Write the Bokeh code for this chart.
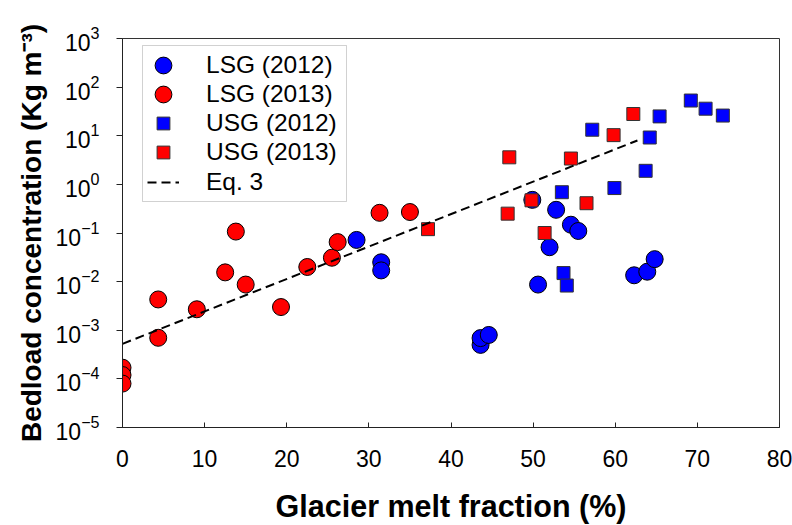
from bokeh.plotting import figure
from bokeh.models import (Range1d, Legend, LegendItem, BoxAnnotation,
                          FixedTicker, LogTickFormatter)
from bokeh.embed import file_html
from bokeh.resources import INLINE

# Glacier melt fraction (%) and bedload concentration (kg m^-3)
lsg2012_x = [28.5, 31.5, 31.5, 43.6, 43.6, 44.6, 50.6, 52.0, 52.8, 54.6, 55.5, 49.9, 62.3, 63.9, 64.8]
lsg2012_y = [0.072, 0.025, 0.017, 5.0e-4, 6.9e-4, 8.0e-4, 8.7e-3, 0.051, 0.30, 0.148, 0.11, 0.48, 0.0135, 0.016, 0.029]

lsg2013_x = [0, 0, 0, 4.35, 4.35, 9.05, 12.5, 13.8, 15.0, 19.3, 22.5, 25.5, 26.2, 31.3, 35.0]
lsg2013_y = [1.7e-4, 1.2e-4, 8.0e-5, 4.3e-3, 7.0e-4, 2.7e-3, 0.0155, 0.107, 0.0087, 3.0e-3, 0.020, 0.031, 0.065, 0.26, 0.27]

usg2012_x = [53.5, 53.7, 54.1, 57.2, 59.9, 63.7, 64.2, 65.4, 69.2, 71.0, 73.1]
usg2012_y = [0.69, 0.015, 0.0083, 13.3, 0.84, 1.9, 9.2, 25, 53, 36, 26]

usg2013_x = [37.2, 46.9, 47.1, 49.8, 51.4, 54.6, 56.5, 59.8, 62.2]
usg2013_y = [0.12, 0.25, 3.6, 0.47, 0.10, 3.4, 0.41, 10.3, 28]

# Eq. 3 fit (straight in log space), end points
eq3_x = [0, 62.7]
eq3_y = [5.25e-4, 8.0]

y_ticks = [1e-5, 1e-4, 1e-3, 1e-2, 1e-1, 1e0, 1e1, 1e2, 1e3]
x_ticks = [0, 10, 20, 30, 40, 50, 60, 70, 80]

series_labels = ["LSG (2012)", "LSG (2013)", "USG (2012)", "USG (2013)", "Eq. 3"]

FONT = "Liberation Sans"

p = figure(width=792, height=525, y_axis_type="log",
           x_range=Range1d(0, 80), y_range=Range1d(1e-5, 1e3),
           output_backend="svg", toolbar_location=None,
           min_border_left=122, min_border_right=13,
           min_border_top=38, min_border_bottom=95)

p.xgrid.visible = False
p.ygrid.visible = False
p.outline_line_color = "#333333"
p.outline_line_width = 1
p.background_fill_color = "white"
p.border_fill_color = "white"

# x axis
p.xaxis.ticker = FixedTicker(ticks=x_ticks, minor_ticks=[])
p.xaxis.major_tick_in = 5
p.xaxis.major_tick_out = 0
p.xaxis.minor_tick_line_color = None
p.xaxis.axis_line_color = "#222222"
p.xaxis.major_tick_line_color = "#222222"
p.xaxis.major_label_text_font = FONT
p.xaxis.major_label_text_font_size = "23px"
p.xaxis.major_label_text_color = "black"
p.xaxis.major_label_standoff = 22
p.xaxis.axis_label = "Glacier melt fraction (%)"
p.xaxis.axis_label_text_font = FONT
p.xaxis.axis_label_text_font_style = "bold"
p.xaxis.axis_label_text_font_size = "30.5px"
p.xaxis.axis_label_text_color = "black"
p.xaxis.axis_label_standoff = 19

# y axis
p.yaxis.ticker = FixedTicker(ticks=y_ticks, minor_ticks=[])
p.yaxis.formatter = LogTickFormatter()
p.yaxis.major_tick_in = 0
p.yaxis.major_tick_out = 6
p.yaxis.minor_tick_line_color = None
p.yaxis.axis_line_color = "#222222"
p.yaxis.major_tick_line_color = "#222222"
p.yaxis.major_label_text_font = FONT
p.yaxis.major_label_text_font_size = "23px"
p.yaxis.major_label_text_color = "black"
p.yaxis.major_label_standoff = 17
p.yaxis.axis_label = "Bedload concentration (Kg m\u207b\u00b3)"
p.yaxis.axis_label_text_font = FONT
p.yaxis.axis_label_text_font_style = "bold"
p.yaxis.axis_label_text_font_size = "28px"
p.yaxis.axis_label_text_color = "black"
p.yaxis.axis_label_standoff = 6

# legend frame
box = BoxAnnotation(left=20, right=224, top=382, bottom=226,
                    left_units="screen", right_units="screen",
                    top_units="screen", bottom_units="screen",
                    fill_color="white", fill_alpha=1.0,
                    line_color="#666666", line_width=1)
p.add_layout(box)

r1 = p.scatter(lsg2012_x, lsg2012_y, marker="circle", size=17,
               fill_color="#0000FF", line_color="black", line_width=1)
r2 = p.scatter(lsg2013_x, lsg2013_y, marker="circle", size=17,
               fill_color="#FF0000", line_color="black", line_width=1)
r3 = p.scatter(usg2012_x, usg2012_y, marker="square", size=13,
               fill_color="#0000FF", line_color="#333333", line_width=1)
r4 = p.scatter(usg2013_x, usg2013_y, marker="square", size=13,
               fill_color="#FF0000", line_color="#333333", line_width=1)
r5 = p.line(eq3_x, eq3_y, line_color="black", line_width=2, line_dash="9 5")

# one legend per entry, so circle and square keys can differ in size
common = dict(padding=0, border_line_color=None, background_fill_alpha=0,
              label_text_font=FONT, label_text_font_size="24.5px",
              label_text_color="black", margin=0)

# (renderer, key box size, label standoff, x offset, y offset)
entries = [
    (r1, 42, 22, 20, 341),
    (r2, 42, 22, 20, 312),
    (r3, 32, 27, 25, 288),
    (r4, 32, 27, 25, 259),
    (r5, 32, 27, 25, 229),
]
for label, (rend, g, standoff, lx, ly) in zip(series_labels, entries):
    leg = Legend(items=[LegendItem(label=label, renderers=[rend])],
                 location=(lx, ly), glyph_width=g, glyph_height=g,
                 label_standoff=standoff, **common)
    p.add_layout(leg)

open("out.html", "w").write(file_html(p, INLINE))
